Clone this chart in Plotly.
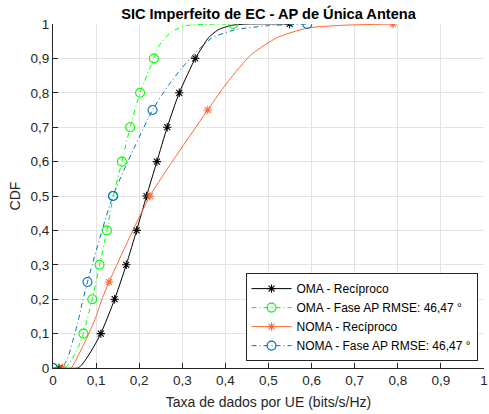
import plotly.graph_objects as go

# CDF curves (rate in bits/s/Hz vs cumulative probability)
oma_rec_x = [0.014, 0.057, 0.066, 0.080, 0.095, 0.111, 0.143, 0.170, 0.194, 0.217,
             0.241, 0.265, 0.293, 0.330, 0.345, 0.360, 0.383, 0.414, 0.450, 0.549]
oma_rec_y = [0.0, 0.0, 0.008, 0.032, 0.063, 0.1, 0.2, 0.3, 0.4, 0.5,
             0.6, 0.7, 0.8, 0.9, 0.930, 0.959, 0.983, 0.996, 1.0, 1.0]
oma_rec_mx = [0.014, 0.111, 0.143, 0.170, 0.194, 0.217, 0.241, 0.265, 0.293, 0.330, 0.549]
oma_rec_my = [0.0, 0.1, 0.2, 0.3, 0.4, 0.5, 0.6, 0.7, 0.8, 0.9, 1.0]

oma_fase_x = [0.0, 0.027, 0.037, 0.048, 0.060, 0.0706, 0.091, 0.108, 0.125, 0.140,
              0.160, 0.179, 0.202, 0.234, 0.245, 0.262, 0.276, 0.307, 0.350, 0.418]
oma_fase_y = [0.0, 0.0, 0.012, 0.035, 0.065, 0.1, 0.2, 0.3, 0.4, 0.5,
              0.6, 0.7, 0.8, 0.9, 0.935, 0.962, 0.978, 0.995, 0.999, 1.0]
oma_fase_mx = [0.0, 0.0706, 0.091, 0.108, 0.125, 0.140, 0.160, 0.179, 0.202, 0.234, 0.418]
oma_fase_my = [0.0, 0.1, 0.2, 0.3, 0.4, 0.5, 0.6, 0.7, 0.8, 0.9, 1.0]

noma_rec_x = [0.022, 0.042, 0.050, 0.060, 0.072, 0.085, 0.100, 0.115, 0.130, 0.225,
              0.359, 0.406, 0.460, 0.521, 0.590, 0.667, 0.789]
noma_rec_y = [0.0, 0.0, 0.015, 0.040, 0.070, 0.105, 0.150, 0.205, 0.25, 0.5,
              0.75, 0.833, 0.911, 0.961, 0.988, 0.996, 1.0]
noma_rec_mx = [0.022, 0.130, 0.225, 0.359, 0.789]
noma_rec_my = [0.0, 0.25, 0.5, 0.75, 1.0]

noma_fase_x = [0.0, 0.018, 0.025, 0.035, 0.045, 0.057, 0.068, 0.080, 0.139, 0.231,
               0.268, 0.299, 0.330, 0.368, 0.422, 0.498, 0.590]
noma_fase_y = [0.0, 0.0, 0.008, 0.032, 0.075, 0.129, 0.190, 0.25, 0.5, 0.75,
               0.822, 0.872, 0.916, 0.959, 0.983, 0.995, 1.0]
noma_fase_mx = [0.0, 0.080, 0.139, 0.231, 0.590]
noma_fase_my = [0.0, 0.25, 0.5, 0.75, 1.0]

tick_vals = [0, 0.1, 0.2, 0.3, 0.4, 0.5, 0.6, 0.7, 0.8, 0.9, 1]
tick_text = ["0", "0,1", "0,2", "0,3", "0,4", "0,5", "0,6", "0,7", "0,8", "0,9", "1"]

FONT = "Liberation Sans, Arial, Helvetica, sans-serif"
DASHDOT = "5px,3px,1px,3px"

series = [
    ("OMA - Recíproco", oma_rec_x, oma_rec_y, oma_rec_mx, oma_rec_my,
     "#000000", "solid", "asterisk-open", 7),
    ("OMA - Fase AP RMSE: 46,47 °", oma_fase_x, oma_fase_y, oma_fase_mx, oma_fase_my,
     "#00ff00", DASHDOT, "circle-open", 9),
    ("NOMA - Recíproco", noma_rec_x, noma_rec_y, noma_rec_mx, noma_rec_my,
     "#ff6633", "solid", "asterisk-open", 7),
    ("NOMA - Fase AP RMSE: 46,47 °", noma_fase_x, noma_fase_y, noma_fase_mx, noma_fase_my,
     "#0072bd", DASHDOT, "circle-open", 9),
]

fig = go.Figure()
for name, lx, ly, mx, my, color, dash, symbol, msize in series:
    fig.add_trace(go.Scatter(x=lx, y=ly, mode="lines", showlegend=False,
                             line=dict(color=color, width=1, dash=dash,
                                       shape="spline", smoothing=0.6),
                             hoverinfo="skip"))
    fig.add_trace(go.Scatter(x=mx, y=my, mode="markers", showlegend=False,
                             marker=dict(symbol=symbol, size=msize, color=color,
                                         line=dict(color=color, width=1.1))))
    # legend entry combining line style and marker
    fig.add_trace(go.Scatter(x=[None], y=[None], mode="lines+markers", name=name,
                             line=dict(color=color, width=1, dash=dash),
                             marker=dict(symbol=symbol, size=msize, color=color,
                                         line=dict(color=color, width=1.1))))

axis_common = dict(
    range=[0, 1], tickvals=tick_vals, ticktext=tick_text,
    showgrid=True, gridcolor="#e3e3e3", gridwidth=1,
    showline=True, linecolor="#262626", linewidth=1,
    ticks="inside", ticklen=5, tickcolor="#262626",
    tickfont=dict(family=FONT, size=13.5, color="#262626"),
    ticklabeloverflow="allow",
    zeroline=False, automargin=False,
)

fig.update_layout(
    width=489, height=414,
    margin=dict(l=53, r=5, t=24, b=46),
    paper_bgcolor="white", plot_bgcolor="white",
    title=dict(text="<b>SIC Imperfeito de EC - AP de Única Antena</b>",
               font=dict(family=FONT, size=14.6, color="#000000"),
               x=0.5, xref="paper", xanchor="center",
               y=1, yref="paper", yanchor="bottom", pad=dict(b=5)),
    xaxis=dict(axis_common,
               title=dict(text="Taxa de dados por UE (bits/s/Hz)", standoff=9,
                          font=dict(family=FONT, size=14, color="#262626"))),
    yaxis=dict(axis_common,
               title=dict(text="CDF", standoff=6,
                          font=dict(family=FONT, size=14, color="#262626"))),
    legend=dict(x=0.985, y=0.02, xanchor="right", yanchor="bottom",
                bgcolor="white", bordercolor="#262626", borderwidth=1,
                font=dict(family=FONT, size=12, color="#000000"),
                tracegroupgap=0, itemwidth=40),
    showlegend=True,
)

fig.write_html("out.html")
